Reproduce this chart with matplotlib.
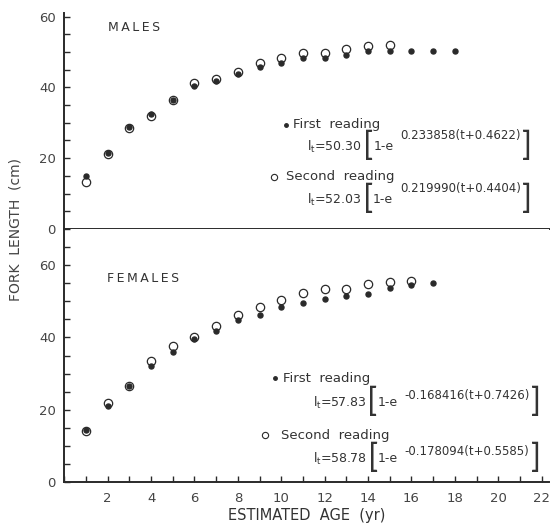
import matplotlib

matplotlib.use("Agg")
import matplotlib.pyplot as plt  # noqa: E402
from matplotlib.ticker import MultipleLocator  # noqa: E402
from matplotlib.transforms import IdentityTransform  # noqa: E402

INK = "#2a2a2a"
TXT = "#333333"

# males
male_age_first = [1, 2, 3, 4, 5, 6, 7, 8, 9, 10, 11, 12, 13, 14, 15, 16, 17, 18]
male_len_first = [14.9, 21.6, 28.8, 32.6, 36.3, 40.5, 41.7, 43.8, 45.8, 46.9,
                  48.2, 48.2, 49.1, 50.2, 50.2, 50.4, 50.4, 50.4]
male_age_second = [1, 2, 3, 4, 5, 6, 7, 8, 9, 10, 11, 12, 13, 14, 15]
male_len_second = [13.4, 21.3, 28.5, 31.8, 36.3, 41.1, 42.5, 44.4, 46.9, 48.4,
                   49.8, 49.8, 50.7, 51.8, 52.1]

# females
female_age_first = [1, 2, 3, 4, 5, 6, 7, 8, 9, 10, 11, 12, 13, 14, 15, 16, 17]
female_len_first = [14.4, 21.1, 26.7, 32.1, 36.0, 39.7, 41.9, 44.7, 46.1, 48.4,
                    49.5, 50.5, 51.4, 52.1, 53.7, 54.4, 55.1]
female_age_second = [1, 2, 3, 4, 5, 6, 7, 8, 9, 10, 11, 12, 13, 14, 15, 16]
female_len_second = [14.0, 21.8, 26.7, 33.5, 37.7, 40.0, 43.2, 46.2, 48.4, 50.3,
                     52.3, 53.5, 53.5, 54.8, 55.4, 55.7]

y_ticks = [0, 20, 40, 60]
x_ticks = [2, 4, 6, 8, 10, 12, 14, 16, 18, 20, 22]

# von Bertalanffy fits as printed: (L-infinity, exponent)
male_fit1 = ("50.30", "0.233858(t+0.4622)")
male_fit2 = ("52.03", "0.219990(t+0.4404)")
female_fit1 = ("57.83", "-0.168416(t+0.7426)")
female_fit2 = ("58.78", "-0.178094(t+0.5585)")

plt.rcParams["mathtext.fontset"] = "dejavusans"

fig = plt.figure(figsize=(5.51, 5.25), dpi=100)
ax_m = fig.add_axes([0.1167, 0.5638, 0.8797, 0.4114])
ax_f = fig.add_axes([0.1167, 0.0819, 0.8797, 0.4819])
renderer = fig.canvas.get_renderer()


def style(ax, ymax):
    ax.set_xlim(0, 22.34)
    ax.set_ylim(0, ymax)
    for s in ["top", "right"]:
        ax.spines[s].set_visible(False)
    for s in ["left", "bottom"]:
        ax.spines[s].set_color(INK)
        ax.spines[s].set_linewidth(1.4)
    ax.set_yticks(y_ticks)
    ax.yaxis.set_minor_locator(MultipleLocator(5))
    ax.tick_params(axis="y", which="both", direction="in", colors=INK,
                   labelsize=9.5, length=4, width=1, pad=6)
    ax.tick_params(axis="y", labelcolor="#444444")


def draw(ax, a1, l1, a2, l2):
    ax.plot(a2, l2, "o", ms=6, mfc="white", mec=INK, mew=0.9, ls="none", zorder=3)
    ax.plot(a1, l1, "o", ms=3.6, color=INK, ls="none", zorder=4)


def equation(ax, x, y, fit, lift):
    """l_t = L [1 - e^(...)] laid out piece by piece so the brackets can be tall."""
    px, py = ax.transData.transform((x, y))
    ident = IdentityTransform()
    thin = dict(family=["Lato", "DejaVu Sans"])
    pieces = [
        (r"$\mathrm{l_t}$=" + fit[0], 9, 0, 1, {}),
        ("[", 24, 1, 0, thin),
        ("1-e", 9, 0, 7, {}),
        (fit[1], 8.5, lift, 1, {}),
        ("]", 24, 1, 0, thin),
    ]
    for s, size, dy, gap, extra in pieces:
        t = ax.text(px, py + dy, s, fontsize=size, color=TXT, va="center",
                    transform=ident, **extra)
        px = t.get_window_extent(renderer).x1 + gap


style(ax_m, 61)
ax_m.tick_params(axis="x", which="both", bottom=False, labelbottom=False)
draw(ax_m, male_age_first, male_len_first, male_age_second, male_len_second)

style(ax_f, 70)
ax_f.set_xticks(x_ticks)
ax_f.xaxis.set_minor_locator(MultipleLocator(1))
ax_f.tick_params(axis="x", which="both", direction="in", colors=INK,
                 labelsize=9.5, length=4, width=1, pad=7)
ax_f.tick_params(axis="x", labelcolor="#444444")
draw(ax_f, female_age_first, female_len_first, female_age_second, female_len_second)

txt = dict(color=TXT, fontsize=9.5, va="center")
ax_m.text(2.0, 57, "M\u2009A\u2009L\u2009E\u2009S", fontsize=9, color=TXT, va="center")
ax_m.plot([10.2], [29.5], "o", ms=2.5, color=INK)
ax_m.text(10.55, 29.5, "First  reading", **txt)
equation(ax_m, 11.2, 23.3, male_fit1, 11)
ax_m.plot([9.65], [14.8], "o", ms=4.5, mfc="white", mec=INK, mew=0.8)
ax_m.text(10.2, 14.8, "Second  reading", **txt)
equation(ax_m, 11.2, 8.2, male_fit2, 11)

ax_f.text(1.97, 56.3, "F\u2009E\u2009M\u2009A\u2009L\u2009E\u2009S", fontsize=9,
          color=TXT, va="center")
ax_f.plot([9.7], [28.7], "o", ms=2.5, color=INK)
ax_f.text(10.1, 28.7, "First  reading", **txt)
equation(ax_f, 11.45, 22.0, female_fit1, 7)
ax_f.plot([9.25], [13.0], "o", ms=4.5, mfc="white", mec=INK, mew=0.8)
ax_f.text(10.0, 13.0, "Second  reading", **txt)
equation(ax_f, 11.45, 6.4, female_fit2, 7)

fig.text(0.028, 0.562, "FORK  LENGTH  (cm)", rotation=90, ha="center", va="center",
         fontsize=10, color="#444444")
fig.text(0.557, 0.004, "ESTIMATED  AGE  (yr)", ha="center", va="bottom",
         fontsize=10.5, color=TXT)

fig.savefig("out.png", dpi=100)
